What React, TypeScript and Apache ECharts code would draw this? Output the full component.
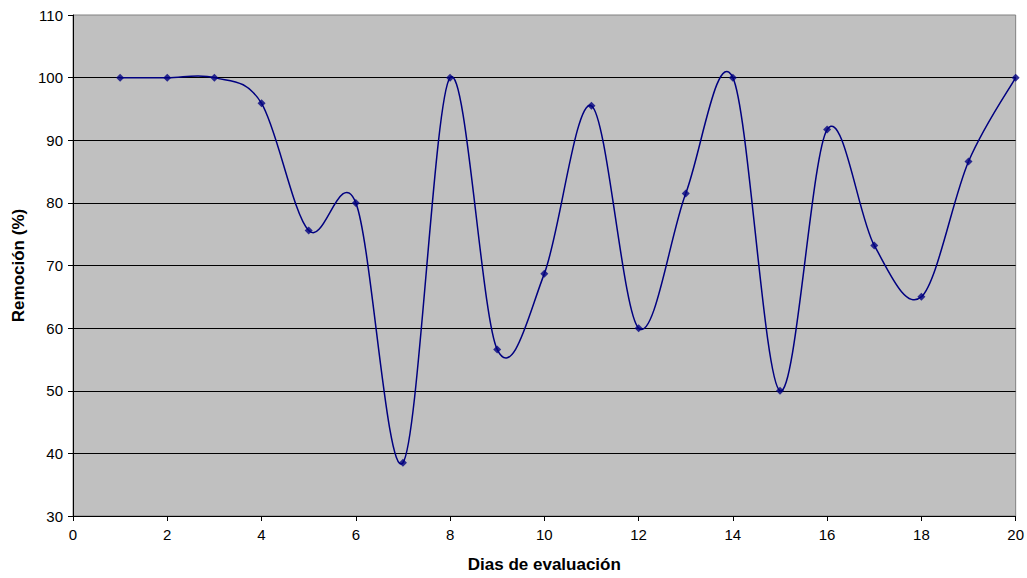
import React, { useEffect, useRef } from "react";
import * as echarts from "echarts";

const days = [1, 2, 3, 4, 5, 6, 7, 8, 9, 10, 11, 12, 13, 14, 15, 16, 17, 18, 19, 20];
const removal = [100, 100, 100, 95.9, 75.6, 80, 38.5, 100, 56.6, 68.7, 95.5, 60, 81.5, 100, 50, 91.7, 73.2, 65.0, 86.6, 100];

const xTitle = "Dias de evaluación";
const yTitle = "Remoción (%)";

export default function App() {
  const ref = useRef<HTMLDivElement>(null);
  useEffect(() => {
    if (!ref.current) return;
    const chart = echarts.init(ref.current, undefined, { renderer: "svg" });
    const font = "'Liberation Sans', Arial, sans-serif";
    const points = days.map((d, i) => [d, removal[i]]);
    const n = points.length;
    const color = "#000080";

    chart.setOption({
      animation: false,
      backgroundColor: "#ffffff",
      grid: {
        left: 73,
        top: 15,
        right: 11,
        bottom: 60,
        show: true,
        backgroundColor: "#C0C0C0",
        borderColor: "#808080",
        borderWidth: 1,
      },
      xAxis: {
        type: "value",
        min: 0,
        max: 20,
        interval: 2,
        name: xTitle,
        nameLocation: "middle",
        nameGap: 40,
        nameTextStyle: { fontFamily: font, fontSize: 17, fontWeight: "bold", color: "#000" },
        axisLine: { show: true, onZero: false, lineStyle: { color: "#000", width: 1 } },
        axisTick: { show: true, length: 5, lineStyle: { color: "#000" } },
        axisLabel: { fontFamily: font, fontSize: 15, color: "#000", margin: 11 },
        splitLine: { show: false },
      },
      yAxis: {
        type: "value",
        min: 30,
        max: 110,
        interval: 10,
        name: yTitle,
        nameLocation: "middle",
        nameGap: 45,
        nameTextStyle: { fontFamily: font, fontSize: 17, fontWeight: "bold", color: "#000" },
        axisLine: { show: true, lineStyle: { color: "#000", width: 1 } },
        axisTick: { show: true, length: 5, lineStyle: { color: "#000" } },
        axisLabel: { fontFamily: font, fontSize: 15, color: "#000", margin: 10 },
        splitLine: { show: true, showMinLine: false, showMaxLine: false, lineStyle: { color: "#000", width: 1 } },
      },
      series: [
        {
          type: "custom",
          data: points.slice(0, n - 1),
          clip: false,
          silent: true,
          renderItem: (params: any, api: any) => {
            const i = params.dataIndex;
            const p = (j: number) => {
              const k = Math.max(0, Math.min(n - 1, j));
              return api.coord(points[k]);
            };
            const p0 = p(i - 1);
            const p1 = p(i);
            const p2 = p(i + 1);
            const p3 = p(i + 2);
            const t = 1 / 6;
            return {
              type: "bezierCurve",
              shape: {
                x1: p1[0],
                y1: p1[1],
                x2: p2[0],
                y2: p2[1],
                cpx1: p1[0] + (p2[0] - p0[0]) * t,
                cpy1: p1[1] + (p2[1] - p0[1]) * t,
                cpx2: p2[0] - (p3[0] - p1[0]) * t,
                cpy2: p2[1] - (p3[1] - p1[1]) * t,
              },
              style: { stroke: color, lineWidth: 1.5, fill: "none" },
            };
          },
        },
        {
          type: "scatter",
          data: points,
          symbol: "diamond",
          symbolSize: 8,
          itemStyle: { color },
        },
      ],
    });
    return () => chart.dispose();
  }, []);
  return (
    <div
      ref={ref}
      style={{ position: "fixed", left: 0, top: 0, width: 1027, height: 578 }}
    />
  );
}
